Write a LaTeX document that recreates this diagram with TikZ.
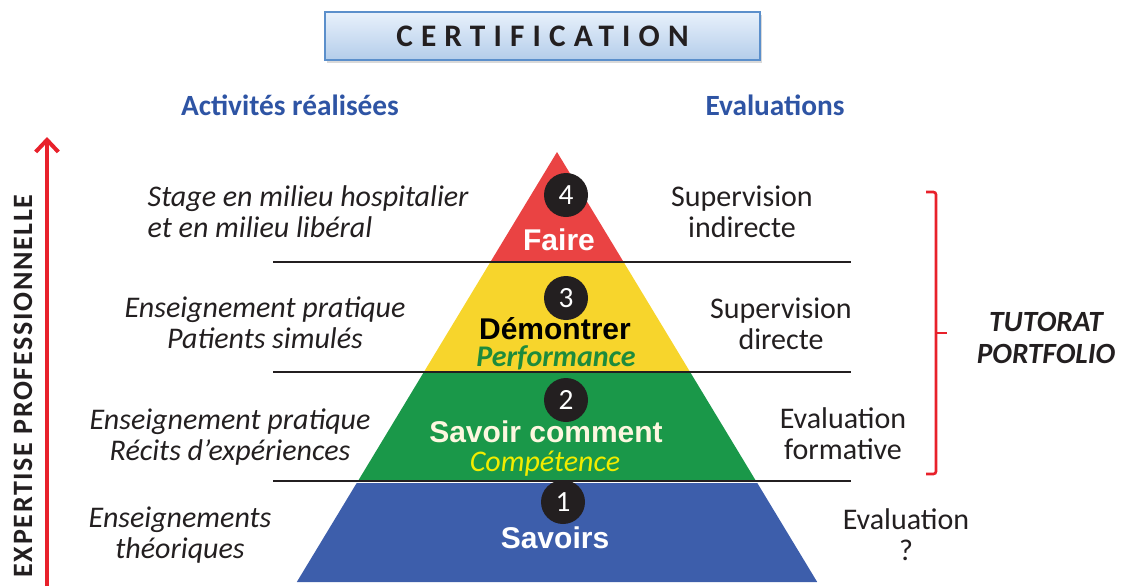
\documentclass[tikz,border=0pt]{standalone}
\usepackage{fontspec}
\setmainfont{Carlito}
\newfontfamily\arialfont{Liberation Sans}
\newfontfamily\certfont[LetterSpace=26]{Carlito}
\newfontfamily\axisfont[LetterSpace=6]{Carlito}
\usetikzlibrary{positioning}
\usetikzlibrary{arrows.meta, shadows}

\definecolor{textblack}{HTML}{231F20}
\definecolor{headblue}{HTML}{2E54A4}
\definecolor{arrowred}{HTML}{E8212B}
\definecolor{faired}{HTML}{EA4343}
\definecolor{demyellow}{HTML}{F7D52C}
\definecolor{savgreen}{HTML}{1A9849}
\definecolor{savblue}{HTML}{3D5EAB}
\definecolor{perfgreen}{HTML}{1E8B3C}
\definecolor{compyellow}{HTML}{F2EC00}
\definecolor{creamtext}{HTML}{FDF7E0}
\definecolor{boxtop}{HTML}{E8F1FB}
\definecolor{boxbottom}{HTML}{B4CDEA}
\definecolor{boxborder}{HTML}{5B8FCB}

\begin{document}
\begin{tikzpicture}[x=0.75pt,y=-0.75pt,
  activity/.style={font=\fontsize{22.5}{23.25}\selectfont\itshape,text=textblack,align=center},
  evaluation/.style={font=\fontsize{22.5}{23.25}\selectfont,text=textblack,align=center},
  heading/.style={font=\fontsize{22}{24}\selectfont\bfseries,text=headblue},
  level/.style={font=\fontsize{22.5}{24}\selectfont\arialfont\bfseries,inner sep=0.5pt},
  num/.style={circle,fill=textblack,text=white,minimum size=33pt,inner sep=0pt,font=\fontsize{22}{22}\selectfont},
  sep/.style={line width=1.6pt,textblack}]
\useasboundingbox (0,0) rectangle (1123,586);

% title box
\node[draw=boxborder,line width=1.5pt,top color=boxtop,bottom color=boxbottom,minimum width=326pt,minimum height=36pt,
  drop shadow={shadow xshift=1.5pt,shadow yshift=-2pt,opacity=0.3}] (cert) at (542.5,36)
  {\fontsize{23.5}{24}\certfont\bfseries\color{textblack}CERTIFICATION};

\node[heading] (activites) at (290,105) {Activités réalisées};
\node[heading] (evaluations) at (775,105) {Evaluations};

% pyramid
\fill[faired] (557,152) -- (623.6,262) -- (490.4,262) -- cycle;
\fill[demyellow] (490.4,262) -- (623.6,262) -- (690.1,372) -- (423.9,372) -- cycle;
\fill[savgreen] (423.9,372) -- (690.1,372) -- (756,481) -- (358,481) -- cycle;
\fill[savblue] (356.7,483) -- (757.3,483) -- (817.2,582) -- (296.8,582) -- cycle;

\draw[sep] (273,262) -- (851,262);
\draw[sep] (273,372) -- (851,372);
\draw[sep] (273,481) -- (851,481);

\node[num] (n4) at (566,195) {4};
\node[num] (n3) at (566,298) {3};
\node[num] (n2) at (566,400) {2};
\node[num] (n1) at (563,502) {1};

\node[level,text=white] (faire) at (559,240) {Faire};
\node[level,text=black] (demontrer) at (555,329) {Démontrer};
\node[font=\fontsize{22.5}{22}\selectfont\bfseries\itshape,text=perfgreen,inner sep=0.5pt] (perf) at (556,358) {Performance};
\node[level,text=creamtext] (savoircomment) at (546,432) {Savoir comment};
\node[font=\fontsize{22.5}{22}\selectfont\itshape,text=compyellow,inner sep=0.5pt] (competence) at (545,464) {Compétence};
\node[level,text=white] (savoirs) at (555,538) {Savoirs};

% activities
\node[activity,align=left,anchor=west] (stage) at (143,212) {Stage en milieu hospitalier\\et en milieu libéral};
\node[activity] (pratique) at (265,323) {Enseignement pratique\\Patients simulés};
\node[activity] (recits) at (230,437) {Enseignement pratique\\Récits d’expériences};
\node[activity] (theorie) at (180,535) {Enseignements\\théoriques};

% evaluations
\node[evaluation] (indirecte) at (742,212) {Supervision\\indirecte};
\node[evaluation] (directe) at (781,324) {Supervision\\directe};
\node[evaluation] (formative) at (843,434) {Evaluation\\formative};
\node[evaluation] (evalq) at (906,535) {Evaluation\\?};

% expertise axis
\coordinate (arrowbase) at (47,586);
\coordinate (arrowtip) at (47,137);
\draw[arrowred,line width=3pt,-{Straight Barb[length=9pt,width=17pt]}] (arrowbase) -- (arrowtip);
\node[rotate=90,font=\fontsize{21}{22}\axisfont\bfseries,text=textblack] (expertise) at (23,386) {EXPERTISE PROFESSIONNELLE};

% bracket
\draw[arrowred,line width=2pt,rounded corners=2pt] (926,192) -- (936,192) -- (936,474) -- (926,474);
\coordinate (brace) at (936,333);
\coordinate (bracetip) at (947,333);
\draw[arrowred,line width=2pt] (brace) -- (bracetip);
\node[font=\fontsize{22}{24}\selectfont\bfseries\itshape,text=textblack,align=center] (tutorat) at (1046,338) {TUTORAT\\PORTFOLIO};

\end{tikzpicture}
\end{document}
